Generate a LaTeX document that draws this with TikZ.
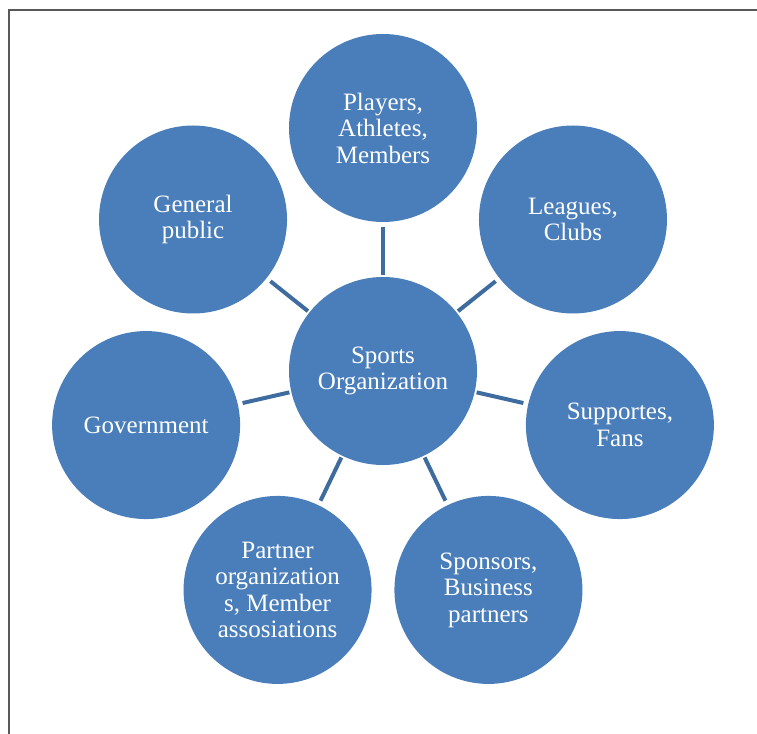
\documentclass[tikz,border=0pt]{standalone}
\usepackage{fontspec}
\setmainfont{Liberation Serif}
\usetikzlibrary{positioning}

\definecolor{circblue}{HTML}{4A7EBB}
\definecolor{lineblue}{HTML}{3F6C9F}

\tikzset{
    party/.style={circle, fill=circblue, text=white, minimum size=188bp, inner sep=0pt, outer sep=0pt, align=center, font=\fontsize{25bp}{26.5bp}\selectfont},
    link/.style={draw=lineblue, line width=4bp, shorten <=2bp, shorten >=5bp}
}

\begin{document}
\begin{tikzpicture}[x=1bp, y=1bp]

            \useasboundingbox (-383, -363) rectangle (374, 371);
            \draw[line width=2bp, color=black!65] (374, 360.5) -- (-373.5, 360.5) -- (-373.5, -363);

            \node[party] (C) at (0, 0) {Sports\\Organization};

            \foreach \n/\txt in {0/{Players,\\Athletes,\\Members}, 1/{Leagues,\\Clubs}, 2/{Supportes,\\Fans}, 3/{Sponsors,\\Business\\partners}, 4/{Partner\\organization\\s, Member\\assosiations}, 5/{Government}, 6/{General\\public}}{
                \pgfmathsetmacro\a{90 - \n*360/7}
                \node[party] (N\n) at (\a:243) {\txt};
            }

            \draw[link] (C) -- (N0);
            \draw[link] (C) -- (N1);
            \draw[link] (C) -- (N2);
            \draw[link] (C) -- (N3);
            \draw[link] (C) -- (N4);
            \draw[link] (C) -- (N5);
            \draw[link] (C) -- (N6);

        \end{tikzpicture}
\end{document}
